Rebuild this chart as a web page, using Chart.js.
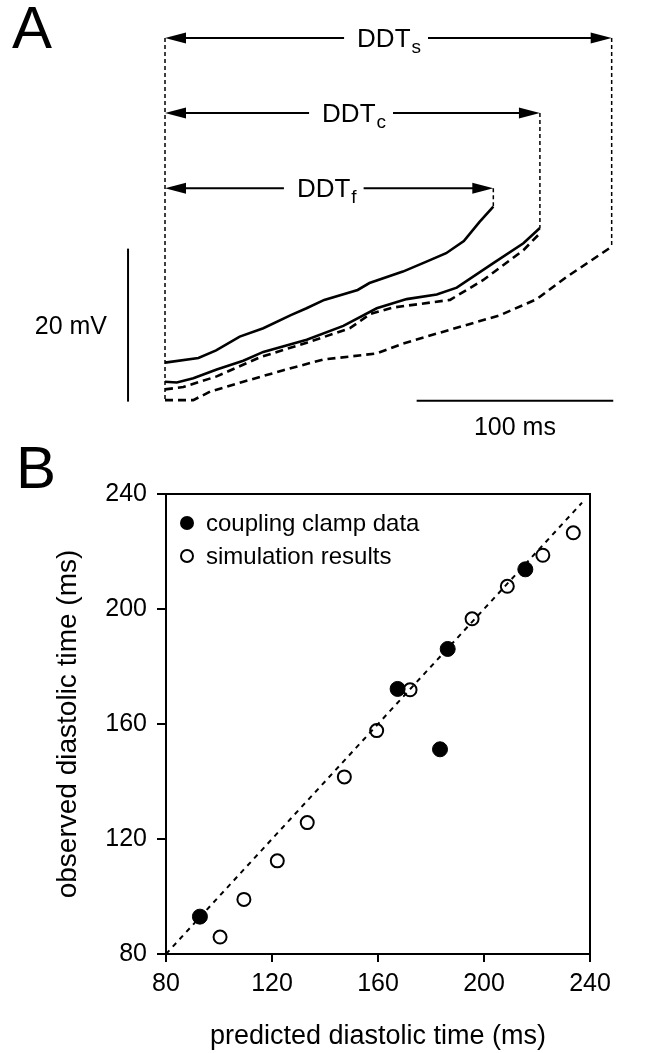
<!DOCTYPE html>
<html>
<head>
<meta charset="utf-8">
<script src="https://cdn.jsdelivr.net/npm/chart.js@4/dist/chart.umd.min.js"></script>
<style>
html,body{margin:0;padding:0;background:#fff;}
#wrapA{position:absolute;left:0;top:0;width:664px;height:440px;}
#wrapB{position:absolute;left:0;top:440px;width:664px;height:613px;}
canvas{display:block;}
</style>
</head>
<body>
<div id="wrapA"><canvas id="chartA" width="664" height="440"></canvas></div>
<div id="wrapB"><canvas id="chartB" width="664" height="613"></canvas></div>
<script>
// ---------- Panel A data: time (ms) vs membrane potential (mV) ----------
const traceF_t = [0, 17, 26, 38, 50, 64, 72, 81, 98, 104, 121, 133, 143, 152, 160, 167];
const traceF_v = [-67.4, -66.8, -65.8, -64.0, -62.9, -61.2, -60.3, -59.2, -57.9, -57.0, -55.5, -54.2, -53.1, -51.5, -49.0, -47.0];

const traceC_t = [0, 6, 14.4, 26.3, 39.8, 50, 72.1, 90.7, 107.7, 122.9, 138.2, 148.4, 167, 182.3, 190.7];
const traceC_v = [-69.9, -70.0, -69.45, -68.3, -67.15, -66.0, -64.4, -62.6, -60.3, -59.1, -58.5, -57.6, -54.4, -51.8, -49.8];

const traceCsim_t = [0, 9.3, 26.3, 48.3, 72.1, 94.1, 104.3, 116.1, 145, 161.9, 182.3, 190.7];
const traceCsim_v = [-70.9, -70.6, -69.2, -66.7, -64.8, -62.9, -61.05, -60.2, -59.2, -56.6, -52.7, -50.5];

const traceS_t = [0, 14.4, 22.9, 39.8, 60.2, 80.5, 107.7, 121.2, 145, 170.4, 189.1, 204.3, 227.2];
const traceS_v = [-72.3, -72.3, -71.2, -69.9, -68.4, -67.0, -66.2, -64.9, -63.1, -61.2, -59.1, -56.2, -52.25];

// DDT interval markers
const ddtSubscripts = ['s', 'c', 'f'];
const ddtEnd = [227.2, 190.7, 167];          // ms
const ddtLevel = [-24.97, -34.77, -44.6];    // mV level of arrow
const ddtTraceEnd = [-52.25, -49.8, -47.0];  // mV where trace ends
const ddtLabelStart = [97.7, 79.9, 67.1];    // ms where label text begins
const guideTop = -24.97, guideBottom = -72.55;

// scale bars
const scaleBarMs = 100, scaleBarMv = 20;
const scaleBarTimeStart = 128, scaleBarTimeLevel = -72.4;
const scaleBarMvTime = -18.8, scaleBarMvBottom = -72.5;

// ---------- Panel B data ----------
const clampPredicted = [92.8, 167.4, 183.4, 186.3, 215.6];
const clampObserved  = [93.0, 172.2, 151.2, 186.1, 213.8];
const simPredicted = [100.4, 109.4, 122.0, 133.3, 147.3, 159.5, 172.1, 195.5, 208.8, 222.2, 233.7];
const simObserved  = [85.9, 99.0, 112.4, 125.7, 141.6, 157.7, 171.9, 196.6, 207.9, 218.7, 226.5];
const identityLine = [80, 237];
const tickValues = [80, 120, 160, 200, 240];

const FAM = '"Liberation Sans", Arial, Helvetica, sans-serif';
Chart.defaults.font.family = FAM;
Chart.defaults.color = '#000';

const PX_PER_MS = 1.966, PX_PER_MV = 7.65, T0_PX = 165;

function pts(ts, vs) { return ts.map((t, i) => ({x: t, y: vs[i]})); }

function seg(ctx, x0, y0, x1, y1) { ctx.beginPath(); ctx.moveTo(x0, y0); ctx.lineTo(x1, y1); ctx.stroke(); }
function head(ctx, x, y, dir) {
  ctx.beginPath(); ctx.moveTo(x, y); ctx.lineTo(x + dir * 21, y - 5.5); ctx.lineTo(x + dir * 21, y + 5.5); ctx.closePath(); ctx.fill();
}

const panelAPlugin = {
  id: 'panelA',
  afterDatasetsDraw(chart) {
    const ctx = chart.ctx, xs = chart.scales.x, ys = chart.scales.y;
    const X = t => xs.getPixelForValue(t), Y = v => ys.getPixelForValue(v);
    ctx.save();
    ctx.strokeStyle = '#000'; ctx.fillStyle = '#000';
    // dashed guides
    ctx.lineWidth = 1.5; ctx.setLineDash([4, 3]);
    seg(ctx, X(0), Y(guideTop), X(0), Y(guideBottom));
    ddtEnd.forEach((t, i) => seg(ctx, X(t), Y(ddtLevel[i]), X(t), Y(ddtTraceEnd[i])));
    ctx.setLineDash([]);
    // arrows + labels
    ddtSubscripts.forEach((sub, i) => {
      const y = Y(ddtLevel[i]), x0 = X(0), x1 = X(ddtEnd[i]);
      ctx.font = '26px ' + FAM; const w1 = ctx.measureText('DDT').width;
      ctx.font = '19px ' + FAM; const w2 = ctx.measureText(sub).width;
      const tx = X(ddtLabelStart[i]);
      ctx.lineWidth = 2;
      seg(ctx, x0 + 10, y, tx - 13, y);
      seg(ctx, tx + w1 + w2 + 8, y, x1 - 10, y);
      head(ctx, x0, y, 1); head(ctx, x1, y, -1);
      ctx.textBaseline = 'alphabetic'; ctx.textAlign = 'left';
      ctx.font = '26px ' + FAM; ctx.fillText('DDT', tx, y + 9);
      ctx.font = '19px ' + FAM; ctx.fillText(sub, tx + w1 + 1, y + 15);
    });
    // scale bars
    ctx.lineWidth = 2;
    const vbX = X(scaleBarMvTime), vbB = Y(scaleBarMvBottom), vbT = Y(scaleBarMvBottom + scaleBarMv);
    seg(ctx, vbX, vbT, vbX, vbB);
    const hbY = Y(scaleBarTimeLevel), hb0 = X(scaleBarTimeStart), hb1 = X(scaleBarTimeStart + scaleBarMs);
    seg(ctx, hb0, hbY, hb1, hbY);
    ctx.font = '25px ' + FAM;
    ctx.textAlign = 'right'; ctx.fillText(scaleBarMv + ' mV', vbX - 21, (vbT + vbB) / 2 + 9);
    ctx.textAlign = 'center'; ctx.fillText(scaleBarMs + ' ms', (hb0 + hb1) / 2, hbY + 34);
    // panel letter
    ctx.textAlign = 'left'; ctx.font = '60px ' + FAM; ctx.fillText('A', 12, 48);
    ctx.restore();
  }
};

const lineBase = {showLine: true, pointRadius: 0, borderColor: '#000', borderWidth: 2.6, fill: false, tension: 0};

new Chart(document.getElementById('chartA'), {
  type: 'scatter',
  data: {
    datasets: [
      Object.assign({label: 'DDTf trace', data: pts(traceF_t, traceF_v)}, lineBase),
      Object.assign({label: 'DDTc trace', data: pts(traceC_t, traceC_v)}, lineBase),
      Object.assign({label: 'DDTc simulated', data: pts(traceCsim_t, traceCsim_v), borderDash: [8, 5]}, lineBase),
      Object.assign({label: 'DDTs simulated', data: pts(traceS_t, traceS_v), borderDash: [8, 5]}, lineBase)
    ]
  },
  options: {
    responsive: false, animation: false, devicePixelRatio: 1,
    layout: {padding: 0},
    plugins: {legend: {display: false}, tooltip: {enabled: false}},
    scales: {
      x: {type: 'linear', display: false, min: -T0_PX / PX_PER_MS, max: (664 - T0_PX) / PX_PER_MS},
      y: {type: 'linear', display: false, min: -20 - 440 / PX_PER_MV, max: -20}
    }
  },
  plugins: [panelAPlugin]
});

const panelBPlugin = {
  id: 'panelB',
  afterDraw(chart) {
    const ctx = chart.ctx, {left, top, right, bottom} = chart.chartArea;
    ctx.save();
    ctx.strokeStyle = '#000'; ctx.fillStyle = '#000'; ctx.lineWidth = 2;
    ctx.beginPath(); ctx.moveTo(left - 1, top); ctx.lineTo(right, top); ctx.lineTo(right, bottom + 1); ctx.stroke();
    // legend
    const ds = chart.data.datasets;
    const lx = 187, ly = [83, 116];
    ctx.beginPath(); ctx.arc(lx, ly[0], 7, 0, Math.PI * 2); ctx.fill();
    ctx.beginPath(); ctx.arc(lx, ly[1], 6, 0, Math.PI * 2); ctx.stroke();
    ctx.font = '24px ' + FAM; ctx.textBaseline = 'middle'; ctx.textAlign = 'left';
    ctx.fillText(ds[1].label, 206, ly[0] + 1);
    ctx.fillText(ds[2].label, 206, ly[1] + 1);
    // panel letter
    ctx.textBaseline = 'alphabetic';
    ctx.font = '60px ' + FAM; ctx.fillText('B', 16, 48);
    ctx.restore();
  }
};

new Chart(document.getElementById('chartB'), {
  type: 'scatter',
  data: {
    datasets: [
      {label: 'identity', type: 'line', data: identityLine.map(v => ({x: v, y: v})), borderColor: '#000', borderWidth: 2,
       borderDash: [5, 5], pointRadius: 0, fill: false, tension: 0, order: 3},
      {label: 'coupling clamp data', data: clampPredicted.map((x, i) => ({x: x, y: clampObserved[i]})),
       pointRadius: 7.5, backgroundColor: '#000', borderColor: '#000', borderWidth: 1, order: 1},
      {label: 'simulation results', data: simPredicted.map((x, i) => ({x: x, y: simObserved[i]})),
       pointRadius: 6.5, backgroundColor: 'rgba(0,0,0,0)', borderColor: '#000', borderWidth: 2, order: 2}
    ]
  },
  options: {
    responsive: false, animation: false, devicePixelRatio: 1,
    layout: {padding: {left: 0, top: 54, right: 74, bottom: 0}},
    plugins: {legend: {display: false}, tooltip: {enabled: false}},
    scales: {
      x: {
        type: 'linear', min: 80, max: 240,
        afterBuildTicks(s) { s.ticks = tickValues.map(v => ({value: v})); },
        afterFit(s) { s.height = 99; },
        ticks: {color: '#000', font: {size: 25, family: FAM}, padding: 7, maxRotation: 0, autoSkip: false},
        grid: {display: true, drawOnChartArea: false, drawTicks: true, tickLength: 8, color: '#000', lineWidth: 2},
        border: {display: true, color: '#000', width: 2},
        title: {display: true, text: 'predicted diastolic time (ms)', color: '#000', font: {size: 27, family: FAM}, padding: {top: 0, bottom: 0}}
      },
      y: {
        type: 'linear', min: 80, max: 240,
        afterBuildTicks(s) { s.ticks = tickValues.map(v => ({value: v})); },
        afterFit(s) { s.width = 166; },
        ticks: {color: '#000', font: {size: 25, family: FAM}, padding: 10, autoSkip: false},
        grid: {display: true, drawOnChartArea: false, drawTicks: true, tickLength: 9, color: '#000', lineWidth: 2},
        border: {display: true, color: '#000', width: 2},
        title: {display: true, text: 'observed diastolic time (ms)', color: '#000', font: {size: 28, family: FAM}, padding: {top: 51, bottom: 0}}
      }
    }
  },
  plugins: [panelBPlugin]
});
</script>
</body>
</html>
